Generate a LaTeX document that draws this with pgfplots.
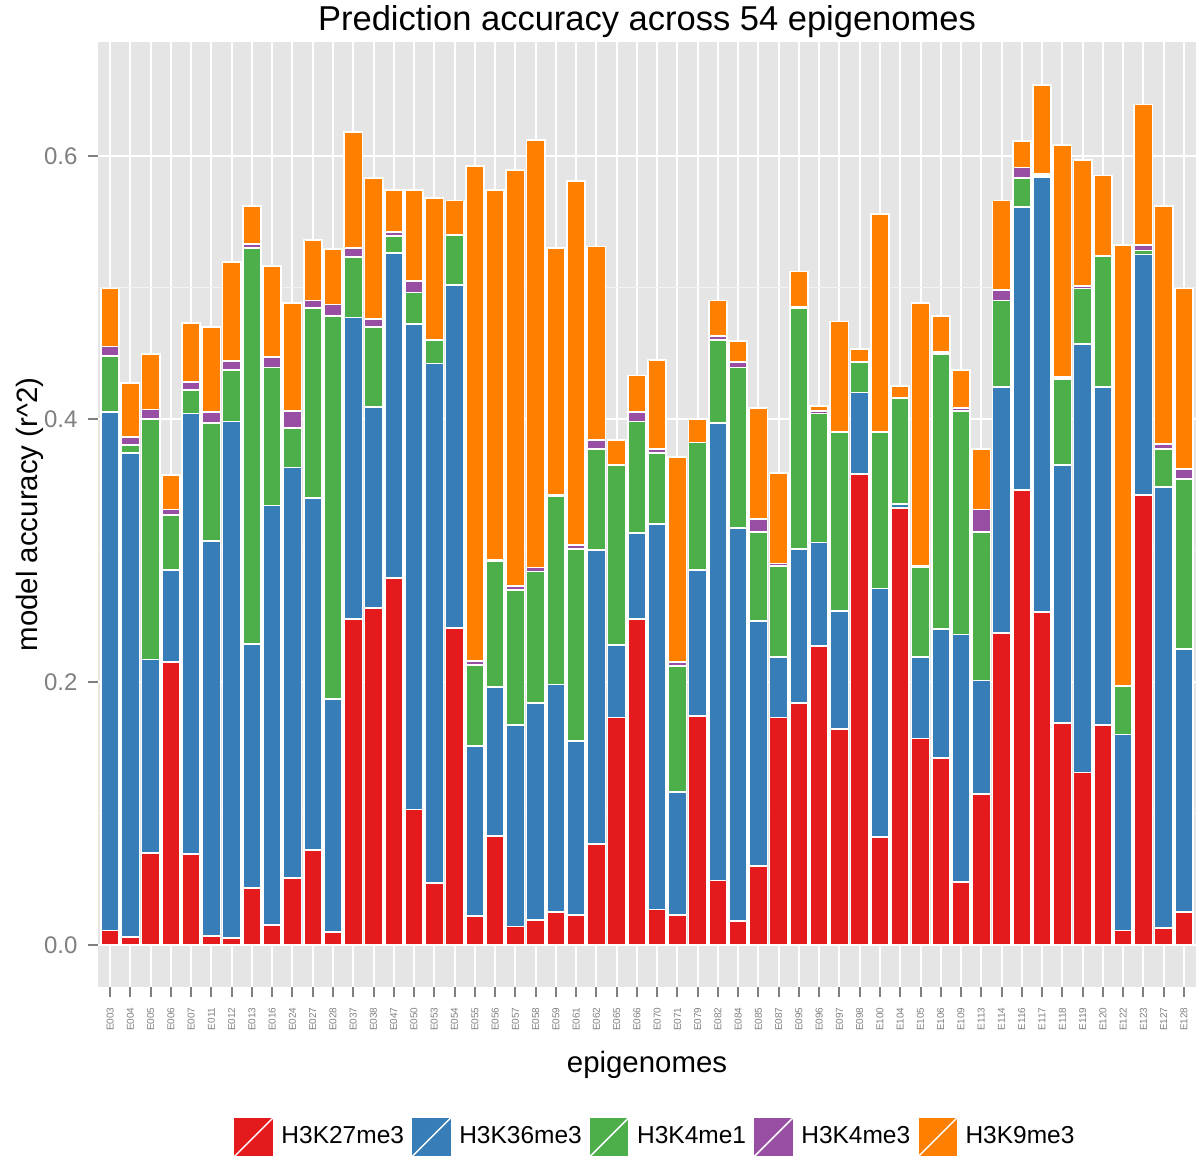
\documentclass[border=0pt]{standalone}
\usepackage{pgfplots}
\pgfplotsset{compat=1.18}
\usepackage{pgfplotstable}
\usepackage{fontspec}
\setmainfont{Liberation Sans}
\definecolor{cR}{HTML}{E41A1C}
\definecolor{cB}{HTML}{377EB8}
\definecolor{cG}{HTML}{4DAF4A}
\definecolor{cP}{HTML}{984EA3}
\definecolor{cO}{HTML}{FF7F00}
\definecolor{panel}{HTML}{E5E5E5}
\definecolor{tickgray}{HTML}{7F7F7F}
\definecolor{minorgrid}{HTML}{F2F2F2}

\pgfplotstableread{
x R B G P O
1 0.011 0.394 0.043 0.007 0.044
2 0.006 0.368 0.006 0.006 0.041
3 0.070 0.147 0.183 0.007 0.042
4 0.215 0.070 0.042 0.004 0.026
5 0.069 0.335 0.018 0.006 0.045
6 0.007 0.300 0.090 0.008 0.065
7 0.005 0.393 0.039 0.007 0.075
8 0.043 0.186 0.301 0.003 0.029
9 0.015 0.319 0.105 0.008 0.069
10 0.051 0.312 0.030 0.013 0.082
11 0.072 0.268 0.144 0.006 0.046
12 0.010 0.177 0.291 0.009 0.042
13 0.248 0.229 0.046 0.007 0.088
14 0.256 0.153 0.061 0.006 0.107
15 0.279 0.247 0.013 0.003 0.032
16 0.103 0.369 0.024 0.009 0.069
17 0.047 0.395 0.018 0.000 0.108
18 0.241 0.261 0.038 0.000 0.026
19 0.022 0.129 0.062 0.003 0.376
20 0.083 0.113 0.096 0.001 0.281
21 0.014 0.153 0.103 0.003 0.316
22 0.019 0.165 0.100 0.003 0.325
23 0.025 0.173 0.143 0.001 0.188
24 0.023 0.132 0.146 0.003 0.277
25 0.077 0.223 0.077 0.007 0.147
26 0.173 0.055 0.137 0.000 0.019
27 0.248 0.065 0.085 0.007 0.028
28 0.027 0.293 0.054 0.003 0.068
29 0.023 0.093 0.096 0.003 0.156
30 0.174 0.111 0.097 0.000 0.018
31 0.049 0.348 0.063 0.003 0.027
32 0.018 0.299 0.122 0.004 0.016
33 0.060 0.186 0.068 0.010 0.084
34 0.173 0.046 0.069 0.002 0.069
35 0.184 0.117 0.183 0.001 0.027
36 0.227 0.079 0.098 0.002 0.004
37 0.164 0.090 0.136 0.000 0.084
38 0.358 0.062 0.023 0.000 0.010
39 0.082 0.189 0.119 0.000 0.166
40 0.332 0.003 0.081 0.000 0.009
41 0.157 0.062 0.068 0.001 0.200
42 0.142 0.098 0.209 0.002 0.027
43 0.048 0.188 0.170 0.002 0.029
44 0.115 0.086 0.113 0.017 0.046
45 0.237 0.187 0.066 0.008 0.068
46 0.346 0.215 0.022 0.008 0.020
47 0.253 0.331 0.001 0.001 0.068
48 0.169 0.196 0.065 0.002 0.176
49 0.131 0.326 0.042 0.002 0.096
50 0.167 0.257 0.100 0.000 0.061
51 0.011 0.149 0.037 0.000 0.335
52 0.342 0.183 0.003 0.004 0.107
53 0.013 0.335 0.029 0.004 0.181
54 0.025 0.200 0.129 0.008 0.137
}\data

\begin{document}
\begin{tikzpicture}
\useasboundingbox (-39.2pt,-68.4pt) rectangle (439.2pt,394.8pt);
\begin{axis}[
  at={(0pt,0pt)}, anchor=south west,
  scale only axis, width=439.2pt, height=378pt,
  xmin=0.4, xmax=54.6, ymin=-0.032, ymax=0.6865,
  ybar stacked, bar width=0.9,
  axis background/.style={fill=panel},
  axis line style={draw=none},
  xtick={1,...,54},
  xticklabels={E003,E004,E005,E006,E007,E011,E012,E013,E016,E024,E027,E028,E037,E038,E047,E050,E053,E054,E055,E056,E057,E058,E059,E061,E062,E065,E066,E070,E071,E079,E082,E084,E085,E087,E095,E096,E097,E098,E100,E104,E105,E106,E109,E113,E114,E116,E117,E118,E119,E120,E122,E123,E127,E128},
  ytick={0,0.2,0.4,0.6}, yticklabels={0.0,0.2,0.4,0.6},
  minor ytick={0.1,0.3,0.5},
  xmajorgrids, ymajorgrids, yminorgrids,
  major grid style={white, line width=0.8pt},
  minor grid style={minorgrid, line width=0.4pt},
  tick align=outside, major tick length=3.8pt, minor tick length=0pt,
  xtick pos=bottom, ytick pos=left,
  tick style={tickgray, line width=0.8pt},
  yticklabel style={font=\fontsize{9.6pt}{10pt}\selectfont, text=tickgray, inner sep=0pt},
  yticklabel shift=4.2pt,
  xticklabel style={rotate=90, anchor=east, font=\fontsize{4pt}{4.5pt}\selectfont, text=tickgray, inner sep=0pt},
  xticklabel shift=4.2pt,
  /pgf/number format/assume math mode=true,
  every axis title shift=0pt,
  title={Prediction accuracy across 54 epigenomes},
  title style={font=\fontsize{13.8pt}{15pt}\selectfont, at={(axis description cs:0.5,1.0212)}, anchor=center, inner sep=0pt},
  xlabel={epigenomes},
  xlabel style={font=\fontsize{11.76pt}{13pt}\selectfont, at={(axis description cs:0.5,-0.0825)}, anchor=center, inner sep=0pt},
  ylabel={model accuracy (r\textasciicircum 2)},
  ylabel style={font=\fontsize{11.76pt}{13pt}\selectfont, at={(axis description cs:-0.062,0.5)}, anchor=center, inner sep=0pt},
  legend columns=-1,
  legend style={at={(axis description cs:0.506,-0.159)}, anchor=center, draw=none, fill=none,
    font=\fontsize{9.8pt}{11pt}\selectfont, inner sep=0pt, outer sep=0pt,
    nodes={inner sep=0pt},
    /tikz/every odd column/.append style={column sep=2.8pt},
    /tikz/every even column/.append style={column sep=2.6pt}},
  legend cell align=left,
  legend image code/.code={\fill[#1] (0pt,-8pt) rectangle (16pt,8pt); \draw[white, line width=0.6pt] (0pt,-8pt) -- (16pt,8pt);},
  every axis plot/.append style={draw=white, line width=0.7pt},
]
\addplot[fill=cR] table[x=x,y=R]{\data};
\addplot[fill=cB] table[x=x,y=B]{\data};
\addplot[fill=cG] table[x=x,y=G]{\data};
\addplot[fill=cP] table[x=x,y=P]{\data};
\addplot[fill=cO] table[x=x,y=O]{\data};
\legend{H3K27me3,H3K36me3,H3K4me1,H3K4me3,H3K9me3}
\end{axis}
\end{tikzpicture}
\end{document}
